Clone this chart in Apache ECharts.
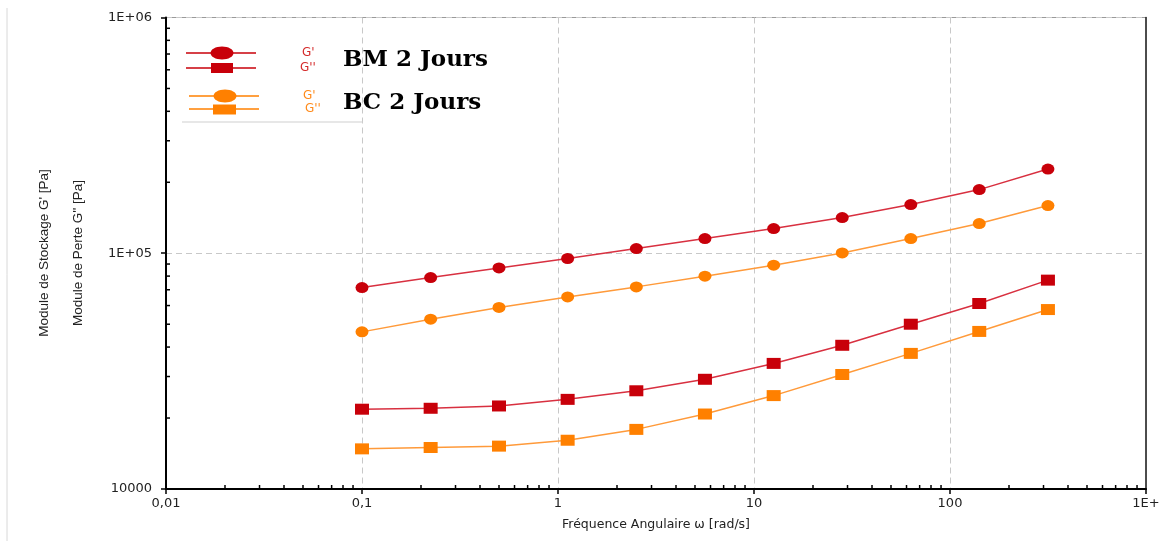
<!DOCTYPE html>
<html><head><meta charset="utf-8">
<script src="https://cdn.jsdelivr.net/npm/echarts@6/dist/echarts.min.js"></script>
<style>html,body{margin:0;padding:0;background:#fff}#c{width:1168px;height:541px}</style>
</head><body><div id="c"></div>
<script>
// Angular frequency (rad/s)
const freq = [0.1, 0.224, 0.5, 1.12, 2.51, 5.62, 12.6, 28.2, 63.1, 141, 316];
// BM 2 Jours
const bmStorage = [71500, 78900, 86600, 95000, 104700, 115400, 127300, 141700, 160900, 186200, 227500];
const bmLoss    = [21800, 22000, 22500, 24000, 26100, 29200, 34100, 40700, 50000, 61200, 76900];
// BC 2 Jours
const bcStorage = [46400, 52500, 58900, 65300, 72000, 79900, 89000, 100300, 115400, 133600, 159300];
const bcLoss    = [14800, 15000, 15200, 16100, 17900, 20800, 24900, 30600, 37600, 46600, 57700];
// tick labels (indexed by decade exponent)
const xTickLabels = {'-2':'0,01', '-1':'0,1', '0':'1', '1':'10', '2':'100', '3':'1E+'};
const yTickLabels = {'4':'10000', '5':'1E+05', '6':'1E+06'};
const xDecades = [0.01, 0.1, 1, 10, 100];
const yDecades = [10000, 100000];
const minorMultipliers = [2, 3, 4, 5, 6, 7, 8, 9];

const X_MIN = 0.01, X_MAX = 1000, Y_MIN = 10000, Y_MAX = 1000000;
const RED = '#c8000a', RED_LINE = '#d83040';
const ORANGE = '#ff8000', ORANGE_LINE = '#ff9a3a';

const xMinor = [];
xDecades.forEach(d => minorMultipliers.forEach(m => xMinor.push([d * m, Y_MIN])));
const yMinor = [];
yDecades.forEach(d => minorMultipliers.forEach(m => yMinor.push([X_MIN, d * m])));

const chart = echarts.init(document.getElementById('c'));
const fontAxis = 'DejaVu Sans';

function mkSeries(name, data, color, lineColor, symbol, size) {
  return {
    name, type: 'line', data: freq.map((f, i) => [f, data[i]]),
    symbol, symbolSize: size, showSymbol: true,
    itemStyle: { color: color },
    lineStyle: { color: lineColor, width: 1.5 },
    z: 3, animation: false
  };
}

const option = {
  animation: false,
  backgroundColor: '#fff',
  grid: { left: 166, right: 22, top: 17.5, bottom: 52, show: true, borderColor: '#9a9a9a', borderWidth: 1, backgroundColor: 'transparent' },
  xAxis: {
    type: 'log', logBase: 10, min: X_MIN, max: X_MAX, splitNumber: 5,
    axisLine: { lineStyle: { color: '#000', width: 2 } },
    axisTick: { show: true, length: 5, lineStyle: { color: '#000', width: 1.5 } },
    axisLabel: { color: '#222', fontFamily: fontAxis, fontSize: 13, margin: 8,
      formatter: v => xTickLabels[String(Math.round(Math.log10(v)))] || '' },
    splitLine: { show: true, lineStyle: { color: '#c8c8c8', type: [6, 4], width: 1 } },
    name: 'Fréquence Angulaire ω [rad/s]', nameLocation: 'middle', nameGap: 29,
    nameTextStyle: { color: '#222', fontFamily: fontAxis, fontSize: 12.5 }
  },
  yAxis: [{
    type: 'log', logBase: 10, min: Y_MIN, max: Y_MAX, splitNumber: 2,
    axisLine: { lineStyle: { color: '#000', width: 2 } },
    axisTick: { show: true, length: 5, lineStyle: { color: '#000', width: 1.5 } },
    axisLabel: { color: '#222', fontFamily: fontAxis, fontSize: 13, margin: 14,
      formatter: v => yTickLabels[String(Math.round(Math.log10(v)))] || '' },
    splitLine: { show: true, lineStyle: { color: '#c8c8c8', type: [6, 4], width: 1 } }
  }, {
    type: 'log', logBase: 10, min: Y_MIN, max: Y_MAX, position: 'right',
    axisLine: { show: true, lineStyle: { color: '#222', width: 1.5 } },
    axisTick: { show: false }, axisLabel: { show: false }, splitLine: { show: false }
  }],
  series: [
    mkSeries("BM G'", bmStorage, RED, RED_LINE, 'circle', [13, 11]),
    mkSeries("BC G'", bcStorage, ORANGE, ORANGE_LINE, 'circle', [13, 11]),
    mkSeries("BM G''", bmLoss, RED, RED_LINE, 'rect', [14, 11]),
    mkSeries("BC G''", bcLoss, ORANGE, ORANGE_LINE, 'rect', [14, 11]),
    {
      type: 'custom', coordinateSystem: 'cartesian2d', silent: true, clip: false, z: 6,
      data: xMinor,
      renderItem: (params, api) => {
        const p = api.coord([api.value(0), api.value(1)]);
        return { type: 'line', shape: { x1: p[0], y1: p[1], x2: p[0], y2: p[1] - 4 }, style: { stroke: '#000', lineWidth: 1.5 } };
      }
    },
    {
      type: 'custom', coordinateSystem: 'cartesian2d', silent: true, clip: false, z: 6,
      data: yMinor,
      renderItem: (params, api) => {
        const p = api.coord([api.value(0), api.value(1)]);
        return { type: 'line', shape: { x1: p[0], y1: p[1], x2: p[0] + 4, y2: p[1] }, style: { stroke: '#000', lineWidth: 1.5 } };
      }
    }
  ],
  graphic: [
    { type: 'line', shape: { x1: 7, y1: 8, x2: 7, y2: 541 }, style: { stroke: '#d8d8d8', lineWidth: 1 }, silent: true },
    // y axis titles
    { type: 'text', x: 44, y: 253, rotation: Math.PI / 2,
      style: { text: "Module de Stockage G' [Pa]", fill: '#222', font: '13.5px "Liberation Sans"', align: 'center', verticalAlign: 'middle' } },
    { type: 'text', x: 78, y: 253, rotation: Math.PI / 2,
      style: { text: "Module de Perte G'' [Pa]", fill: '#222', font: '13.5px "Liberation Sans"', align: 'center', verticalAlign: 'middle' } },
    // legend box
    { type: 'rect', shape: { x: 182, y: 20, width: 180, height: 102 }, style: { fill: '#fff' }, z: 10 },
    { type: 'line', shape: { x1: 182, y1: 122, x2: 363, y2: 122 }, style: { stroke: '#cfcfcf', lineWidth: 1 }, z: 11 },
    { type: 'line', shape: { x1: 186, y1: 53, x2: 256, y2: 53 }, style: { stroke: RED, lineWidth: 1.5 }, z: 11 },
    { type: 'ellipse', shape: { cx: 222, cy: 53, rx: 11.5, ry: 6.5 }, style: { fill: RED }, z: 12 },
    { type: 'line', shape: { x1: 186, y1: 68, x2: 256, y2: 68 }, style: { stroke: RED, lineWidth: 1.5 }, z: 11 },
    { type: 'rect', shape: { x: 211, y: 63, width: 22, height: 10 }, style: { fill: RED }, z: 12 },
    { type: 'line', shape: { x1: 189, y1: 96, x2: 259, y2: 96 }, style: { stroke: ORANGE, lineWidth: 1.5 }, z: 11 },
    { type: 'ellipse', shape: { cx: 225, cy: 96, rx: 11.5, ry: 6.5 }, style: { fill: ORANGE }, z: 12 },
    { type: 'line', shape: { x1: 189, y1: 109, x2: 259, y2: 109 }, style: { stroke: ORANGE, lineWidth: 1.5 }, z: 11 },
    { type: 'rect', shape: { x: 213, y: 104.5, width: 23, height: 10 }, style: { fill: ORANGE }, z: 12 },
    { type: 'text', x: 302, y: 53, z: 12, style: { text: "G'", fill: '#d42a2a', font: '12px "DejaVu Sans"', verticalAlign: 'middle' } },
    { type: 'text', x: 300, y: 68, z: 12, style: { text: "G''", fill: '#d42a2a', font: '12px "DejaVu Sans"', verticalAlign: 'middle' } },
    { type: 'text', x: 303, y: 96, z: 12, style: { text: "G'", fill: '#ff8a1a', font: '12px "DejaVu Sans"', verticalAlign: 'middle' } },
    { type: 'text', x: 305, y: 109, z: 12, style: { text: "G''", fill: '#ff8a1a', font: '12px "DejaVu Sans"', verticalAlign: 'middle' } },
    { type: 'text', x: 343, y: 60, z: 12, style: { text: 'BM 2 Jours', fill: '#000', font: 'bold 23px "DejaVu Serif"', verticalAlign: 'middle' } },
    { type: 'text', x: 343, y: 103, z: 12, style: { text: 'BC 2 Jours', fill: '#000', font: 'bold 23px "DejaVu Serif"', verticalAlign: 'middle' } }
  ]
};
chart.setOption(option);
</script>
</body></html>
